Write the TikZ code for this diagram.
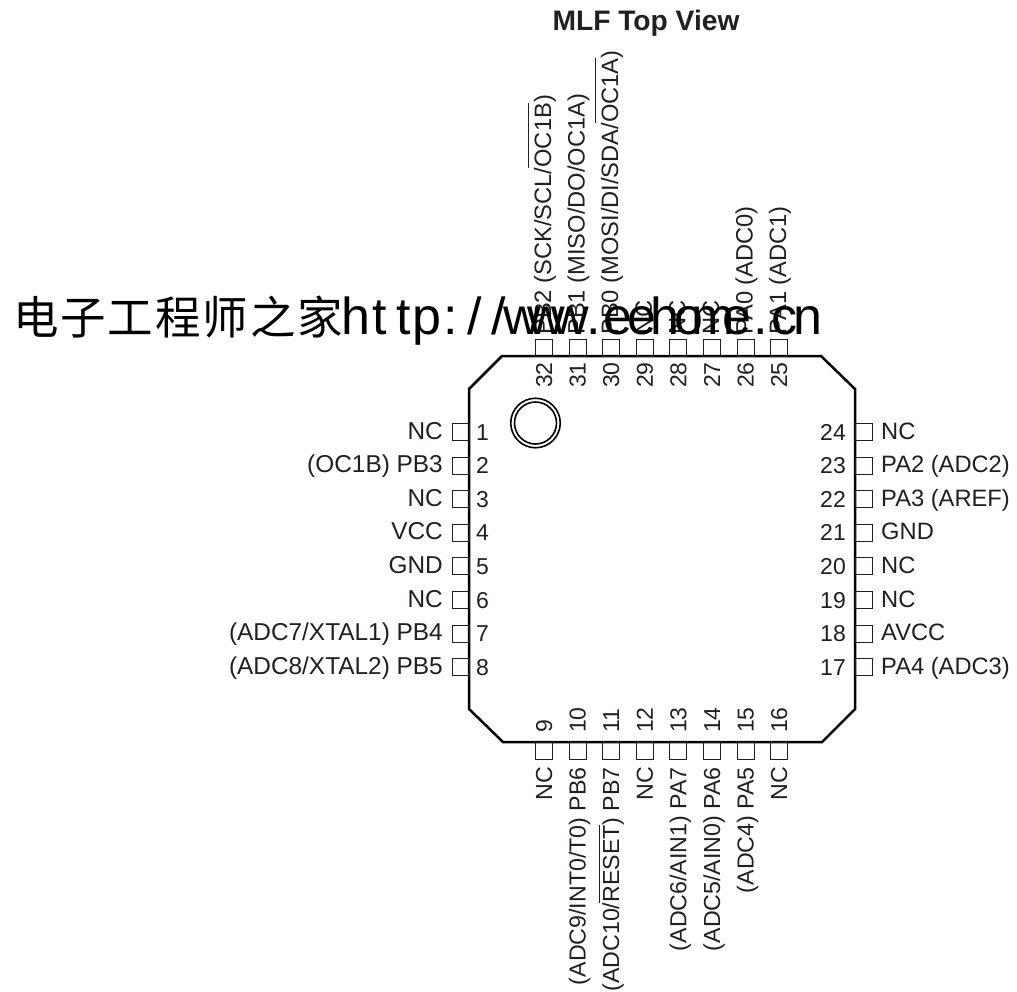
\documentclass[tikz,border=0pt]{standalone}
\usepackage{fontspec}
\setmainfont{Liberation Sans}
\newfontfamily\cjk{Noto Sans CJK SC}
\usetikzlibrary{backgrounds}
\pgfdeclarelayer{edgelayer}
\pgfdeclarelayer{nodelayer}
\pgfsetlayers{edgelayer,nodelayer,main}
\definecolor{inkblack}{HTML}{231F20}
\newcommand{\ovbar}[2]{\setbox0\hbox{#2}\rlap{\raisebox{#1}{\rule{\wd0}{1.3pt}}}\box0}
\newcommand{\cell}[1]{\makebox[23.8pt]{#1}}
\newcommand{\bigcell}[1]{\makebox[47.4pt]{#1}}
\tikzset{font=\fontsize{23}{26}\selectfont,text=inkblack}
\tikzstyle{none}=[inner sep=0pt]
\tikzstyle{pad}=[rectangle,draw=inkblack,line width=0.9pt,minimum size=17pt,inner sep=0pt]
\tikzstyle{leftlab}=[inner sep=0pt,anchor=base east,font=\fontsize{24.4}{26}\selectfont]
\tikzstyle{rightlab}=[inner sep=0pt,anchor=base west,font=\fontsize{23.7}{26}\selectfont]
\tikzstyle{toplab}=[inner sep=0pt,rotate=90,anchor=base west,font=\fontsize{23.7}{26}\selectfont]
\tikzstyle{botlab}=[inner sep=0pt,rotate=90,anchor=base east,font=\fontsize{23.2}{26}\selectfont]
\tikzstyle{leftnum}=[inner sep=0pt,anchor=base west]
\tikzstyle{rightnum}=[inner sep=0pt,anchor=base east]
\tikzstyle{vertnum}=[inner sep=0pt,rotate=90,anchor=base west]
\tikzstyle{ring}=[circle,draw=black,line width=1.6pt,inner sep=0pt]
\tikzstyle{body}=[line width=2.5pt,draw=black,line join=miter]
\tikzstyle{title}=[inner sep=0pt,anchor=base,font=\fontsize{28.2}{30}\selectfont\bfseries]

\begin{document}
\begin{tikzpicture}[x=1pt,y=-1pt]
	\useasboundingbox (0,0) rectangle (1017,991);
	\begin{pgfonlayer}{nodelayer}
		\node [style=none] (0) at (502, 356) {};
		\node [style=none] (1) at (821, 356) {};
		\node [style=none] (2) at (855, 389) {};
		\node [style=none] (3) at (855, 709) {};
		\node [style=none] (4) at (822, 742) {};
		\node [style=none] (5) at (503, 742) {};
		\node [style=none] (6) at (469, 709) {};
		\node [style=none] (7) at (469, 389) {};
		% left row
		\node [style=pad] (p1) at (460.5, 432) {};
		\node [style=pad] (p2) at (460.5, 465.6) {};
		\node [style=pad] (p3) at (460.5, 499.2) {};
		\node [style=pad] (p4) at (460.5, 532.8) {};
		\node [style=pad] (p5) at (460.5, 566.4) {};
		\node [style=pad] (p6) at (460.5, 600) {};
		\node [style=pad] (p7) at (460.5, 633.6) {};
		\node [style=pad] (p8) at (460.5, 667.2) {};
		\node [style=leftlab] (l1) at (443, 439) {NC};
		\node [style=leftlab] (l2) at (443, 472.6) {(OC1B) PB3};
		\node [style=leftlab] (l3) at (443, 506.2) {NC};
		\node [style=leftlab] (l4) at (443, 539.8) {VCC};
		\node [style=leftlab] (l5) at (443, 573.4) {GND};
		\node [style=leftlab] (l6) at (443, 607) {NC};
		\node [style=leftlab] (l7) at (443, 640.6) {(ADC7/XTAL1) PB4};
		\node [style=leftlab] (l8) at (443, 674.2) {(ADC8/XTAL2) PB5};
		\node [style=leftnum] (n1) at (476, 440) {1};
		\node [style=leftnum] (n2) at (476, 473.6) {2};
		\node [style=leftnum] (n3) at (476, 507.2) {3};
		\node [style=leftnum] (n4) at (476, 540.8) {4};
		\node [style=leftnum] (n5) at (476, 574.4) {5};
		\node [style=leftnum] (n6) at (476, 608) {6};
		\node [style=leftnum] (n7) at (476, 641.6) {7};
		\node [style=leftnum] (n8) at (476, 675.2) {8};
		% bottom row
		\node [style=pad] (p9) at (544, 750.5) {};
		\node [style=pad] (p10) at (577.6, 750.5) {};
		\node [style=pad] (p11) at (611.2, 750.5) {};
		\node [style=pad] (p12) at (644.8, 750.5) {};
		\node [style=pad] (p13) at (678.4, 750.5) {};
		\node [style=pad] (p14) at (712, 750.5) {};
		\node [style=pad] (p15) at (745.6, 750.5) {};
		\node [style=pad] (p16) at (779.2, 750.5) {};
		\node [style=botlab] (l9) at (552, 767) {NC};
		\node [style=botlab] (l10) at (585.6, 767) {(ADC9/INT0/T0) PB6};
		\node [style=botlab] (l11) at (619.2, 767) {(ADC10/\ovbar{19pt}{RESET}) PB7};
		\node [style=botlab] (l12) at (652.8, 767) {NC};
		\node [style=botlab] (l13) at (686.4, 767) {(ADC6/AIN1) PA7};
		\node [style=botlab] (l14) at (720, 767) {(ADC5/AIN0) PA6};
		\node [style=botlab] (l15) at (753.6, 767) {(ADC4) PA5};
		\node [style=botlab] (l16) at (787.2, 767) {NC};
		\node [style=vertnum] (n9) at (552, 733) {9};
		\node [style=vertnum] (n10) at (585.6, 733) {10};
		\node [style=vertnum] (n11) at (619.2, 733) {11};
		\node [style=vertnum] (n12) at (652.8, 733) {12};
		\node [style=vertnum] (n13) at (686.4, 733) {13};
		\node [style=vertnum] (n14) at (720, 733) {14};
		\node [style=vertnum] (n15) at (753.6, 733) {15};
		\node [style=vertnum] (n16) at (787.2, 733) {16};
		% right row
		\node [style=pad] (p17) at (863.5, 667.2) {};
		\node [style=pad] (p18) at (863.5, 633.6) {};
		\node [style=pad] (p19) at (863.5, 600) {};
		\node [style=pad] (p20) at (863.5, 566.4) {};
		\node [style=pad] (p21) at (863.5, 532.8) {};
		\node [style=pad] (p22) at (863.5, 499.2) {};
		\node [style=pad] (p23) at (863.5, 465.6) {};
		\node [style=pad] (p24) at (863.5, 432) {};
		\node [style=rightlab] (l17) at (881, 674.2) {PA4 (ADC3)};
		\node [style=rightlab] (l18) at (881, 640.6) {AVCC};
		\node [style=rightlab] (l19) at (881, 607) {NC};
		\node [style=rightlab] (l20) at (881, 573.4) {NC};
		\node [style=rightlab] (l21) at (881, 539.8) {GND};
		\node [style=rightlab] (l22) at (881, 506.2) {PA3 (AREF)};
		\node [style=rightlab] (l23) at (881, 472.6) {PA2 (ADC2)};
		\node [style=rightlab] (l24) at (881, 439) {NC};
		\node [style=rightnum] (n17) at (846, 675.2) {17};
		\node [style=rightnum] (n18) at (846, 641.6) {18};
		\node [style=rightnum] (n19) at (846, 608) {19};
		\node [style=rightnum] (n20) at (846, 574.4) {20};
		\node [style=rightnum] (n21) at (846, 540.8) {21};
		\node [style=rightnum] (n22) at (846, 507.2) {22};
		\node [style=rightnum] (n23) at (846, 473.6) {23};
		\node [style=rightnum] (n24) at (846, 440) {24};
		% top row
		\node [style=pad] (p25) at (779.2, 347.5) {};
		\node [style=pad] (p26) at (745.6, 347.5) {};
		\node [style=pad] (p27) at (712, 347.5) {};
		\node [style=pad] (p28) at (678.4, 347.5) {};
		\node [style=pad] (p29) at (644.8, 347.5) {};
		\node [style=pad] (p30) at (611.2, 347.5) {};
		\node [style=pad] (p31) at (577.6, 347.5) {};
		\node [style=pad] (p32) at (544, 347.5) {};
		\node [style=toplab] (l25) at (786.2, 335) {PA1 (ADC1)};
		\node [style=toplab] (l26) at (752.6, 335) {PA0 (ADC0)};
		\node [style=toplab] (l27) at (719, 335) {NC};
		\node [style=toplab] (l28) at (685.4, 335) {NC};
		\node [style=toplab] (l29) at (651.8, 335) {NC};
		\node [style=toplab] (l30) at (618.2, 335) {PB0 (MOSI/DI/SDA/\ovbar{22pt}{OC1A})};
		\node [style=toplab] (l31) at (584.6, 335) {PB1 (MISO/DO/OC1A)};
		\node [style=toplab] (l32) at (551, 335) {PB2 (SCK/SCL/\ovbar{22pt}{OC1B})};
		\node [style=vertnum] (n25) at (787.2, 388) {25};
		\node [style=vertnum] (n26) at (753.6, 388) {26};
		\node [style=vertnum] (n27) at (720, 388) {27};
		\node [style=vertnum] (n28) at (686.4, 388) {28};
		\node [style=vertnum] (n29) at (652.8, 388) {29};
		\node [style=vertnum] (n30) at (619.2, 388) {30};
		\node [style=vertnum] (n31) at (585.6, 388) {31};
		\node [style=vertnum] (n32) at (552, 388) {32};
		% pin one mark
		\node [style=ring,minimum size=49.5pt] (m0) at (535.5, 423) {};
		\node [style=ring,minimum size=42pt] (m1) at (535.5, 423) {};
		\node [style=title] (t0) at (646, 30) {MLF Top View};
		\node [inner sep=0pt,anchor=base west,text=black] (w0) at (12, 334) {\fontsize{45.5}{50}\selectfont\cjk\bigcell{电}\bigcell{子}\bigcell{工}\bigcell{程}\bigcell{师}\bigcell{之}\bigcell{家}\fontsize{52}{56}\selectfont\rmfamily\cell{h}\cell{t}\cell{t}\cell{p}\cell{:}\cell{/}\cell{/}\cell{w}\cell{w}\cell{w}\cell{.}\cell{e}\cell{e}\cell{h}\cell{o}\cell{m}\cell{e}\cell{.}\cell{c}\cell{n}};
	\end{pgfonlayer}
	\begin{pgfonlayer}{edgelayer}
		\draw[style=body] (0.center) to (1.center) to (2.center) to (3.center) to (4.center) to (5.center) to (6.center) to (7.center) -- cycle;
	\end{pgfonlayer}
\end{tikzpicture}
\end{document}
